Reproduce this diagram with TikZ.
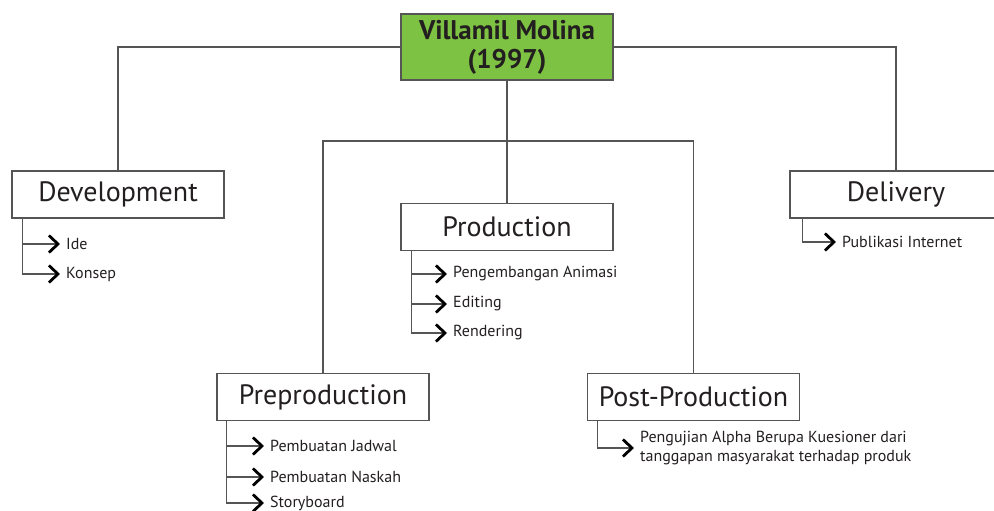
\documentclass[tikz,border=0pt]{standalone}
\usepackage{fontspec}
\setmainfont{PT Sans}
\usetikzlibrary{arrows.meta}
\definecolor{mgreen}{RGB}{125,194,66}
\definecolor{lgray}{RGB}{85,85,85}
\definecolor{ink}{RGB}{35,31,32}
\tikzset{
  stage/.style={draw=lgray, line width=1.4pt, fill=white, minimum width=212pt, minimum height=47pt, inner sep=0pt, text=ink, font=\fontsize{28}{30}\selectfont},
  root/.style={stage, fill=mgreen, minimum height=66pt, font=\fontsize{27}{29}\selectfont\bfseries, align=center},
  item/.style={anchor=west, inner xsep=6pt, inner ysep=1pt, text=ink, font=\fontsize{16}{19}\selectfont, align=left},
  link/.style={draw=lgray, line width=1.3pt},
  itemarrow/.style={link, -{Straight Barb[length=9pt,width=17pt,line width=2.8pt,color=black]}}
}

\begin{document}
\begin{tikzpicture}[x=1pt,y=-1pt]
  %%%%% START %%%%%
  \useasboundingbox (0,0) rectangle (994,511);
  \clip (0,0) rectangle (994,511);

  \node[root] (molina) at (507,47) {Villamil Molina\\(1997)};
  \node[stage] (devel) at (118,194.5) {Development};
  \node[stage] (prod) at (507,227) {Production};
  \node[stage] (preprod) at (323,397) {Preproduction};
  \node[stage] (postprod) at (693.5,397) {Post-Production};
  \node[stage] (deliv) at (896,194.5) {Delivery};
  \coordinate (split) at (507,141);

  \draw[link] (molina.west) -| (devel.north);
  \draw[link] (molina.east) -| (deliv.north);
  \draw[link] (molina.south) -- (prod.north);
  \draw[link] (preprod.north) |- (split) -| (postprod.north);

  % development
  \coordinate (develtrunk) at ([xshift=11pt]devel.south west);
  \node[item] (ide) at (60,244) {Ide};
  \node[item] (konsep) at (60,274) {Konsep};
  \draw[itemarrow] (develtrunk) |- (ide.west);
  \draw[itemarrow] (develtrunk) |- (konsep.west);

  % production
  \coordinate (prodtrunk) at ([xshift=11pt]prod.south west);
  \node[item] (animasi) at (447,274) {Pengembangan Animasi};
  \node[item] (editing) at (447,304) {Editing};
  \node[item] (render) at (447,333) {Rendering};
  \draw[itemarrow] (prodtrunk) |- (animasi.west);
  \draw[itemarrow] (prodtrunk) |- (editing.west);
  \draw[itemarrow] (prodtrunk) |- (render.west);

  % preproduction
  \coordinate (pretrunk) at ([xshift=10pt]preprod.south west);
  \node[item] (jadwal) at (264,446) {Pembuatan Jadwal};
  \node[item] (naskah) at (264,477) {Pembuatan Naskah};
  \node[item] (story) at (264,503) {Storyboard};
  \draw[itemarrow] (pretrunk) |- (jadwal.west);
  \draw[itemarrow] (pretrunk) |- (naskah.west);
  \draw[itemarrow] (pretrunk) |- (story.west);

  % post-production
  \coordinate (posttrunk) at ([xshift=11pt]postprod.south west);
  \node[item] (alpha) at (634,448) {Pengujian Alpha Berupa Kuesioner dari\\tanggapan masyarakat terhadap produk};
  \draw[itemarrow] (posttrunk) |- (alpha.west);

  % delivery
  \coordinate (delivtrunk) at ([xshift=13pt]deliv.south west);
  \node[item] (publik) at (836,242) {Publikasi Internet};
  \draw[itemarrow] (delivtrunk) |- (publik.west);
  %%%%% END %%%%%
\end{tikzpicture}
\end{document}
